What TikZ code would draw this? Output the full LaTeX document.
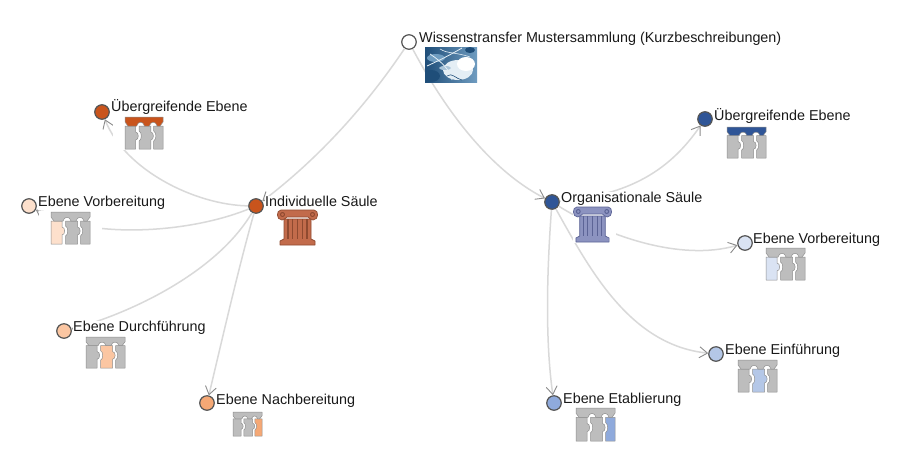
\documentclass[tikz,border=0pt]{standalone}
\usepackage{fontspec}
\setmainfont{Liberation Sans}
\usetikzlibrary{arrows.meta}
\definecolor{lineC}{HTML}{D9D9D9}
\definecolor{tipC}{HTML}{8C8C8C}
\definecolor{ringC}{HTML}{555555}
\definecolor{colG}{HTML}{BDBDBD}
\definecolor{colE}{HTML}{8F8F8F}
\definecolor{oA}{HTML}{C9541C}
\definecolor{oB}{HTML}{FDE0CC}
\definecolor{oC}{HTML}{FBC6A2}
\definecolor{oD}{HTML}{F5A875}
\definecolor{bA}{HTML}{2F5597}
\definecolor{bB}{HTML}{DAE3F3}
\definecolor{bC}{HTML}{B4C7E7}
\definecolor{bD}{HTML}{8FAADC}
\definecolor{pilO}{HTML}{C26B4B}
\definecolor{pilOe}{HTML}{8F4A30}
\definecolor{pilB}{HTML}{8C93C0}
\definecolor{pilBe}{HTML}{5C6496}
\definecolor{imgD}{HTML}{1F4E79}
\definecolor{imgM}{HTML}{6F9CC0}
\definecolor{imgL}{HTML}{E4EEF5}
\tikzset{
 dot/.style={circle,draw=ringC,line width=1.2pt,minimum size=14.5pt,inner sep=0pt},
 lab/.style={anchor=west,inner sep=0pt,fill=white,text height=10.5pt,text depth=3pt,text=black!90,font=\fontsize{14.35}{16}\selectfont},
 link/.style={draw=lineC,line width=1.5pt,-{Straight Barb[color=tipC,length=8pt,width=11pt,line width=.9pt]}},
}
% gate icon: x,y,w,h, bar, left, middle, right
\newcommand{\gateicon}[8]{%
 \fill[white] (#1-12,#2-1) rectangle (#1+#3+12,#2+#4+1);
 \begin{scope}[shift={(#1,#2)},xscale=#3/39,yscale=#4/32,draw=colE,line width=.5pt,line join=round]
 \filldraw[fill=#6] (0,9)--(11,9)--(11,15) .. controls (14.5,15) and (14.5,23) .. (11,23)--(11,32)--(0,32)--cycle;
 \filldraw[fill=#7] (14.5,9)--(26.5,9)--(26.5,15) .. controls (30,15) and (30,23) .. (26.5,23)--(26.5,32)--(14.5,32)--(14.5,24) .. controls (17.5,23) and (17.5,15) .. (14.5,14)--cycle;
 \filldraw[fill=#8] (29.5,9)--(39,9)--(39,32)--(29.5,32)--(29.5,24) .. controls (32.5,22) and (32.5,16) .. (29.5,14)--cycle;
 \filldraw[fill=#5] (0,0)--(39,0)--(39,5)--(36,9)--(33,9) .. controls (32,4) and (26,4) .. (25,9)--(20,9) .. controls (19,4) and (13,4) .. (12,9)--(3,9)--(0,5)--cycle;
 \end{scope}}
% ionic pillar: x,y,w,h, fill, edge
\newcommand{\pillaricon}[6]{%
 \fill[white] (#1-1,#2-1) rectangle (#1+#3+5,#2+#4+1);
 \begin{scope}[shift={(#1,#2)},xscale=#3/39,yscale=#4/35,draw=#6,line width=.7pt,line join=round]
 \filldraw[fill=#5] (6,9)--(33,9)--(33,29)--(37,31)--(37,35)--(2,35)--(2,31)--(6,29)--cycle;
 \filldraw[fill=#5] (3,0)--(36,0) .. controls (41,0) and (41,10) .. (35,10) .. controls (32,10) and (31,7) .. (30,7)--(9,7) .. controls (8,7) and (7,10) .. (4,10) .. controls (-2,10) and (-2,0) .. (3,0)--cycle;
 \draw[line width=1pt] (4.5,4.5) circle (2);
 \draw[line width=1pt] (34.5,4.5) circle (2);
 \foreach \q in {10,14.5,19.5,24.5,29}{\draw[line width=1.1pt] (\q,9)--(\q,29);}
 \end{scope}}
\begin{document}
\begin{tikzpicture}[x=1pt,y=-1pt]
\useasboundingbox (0,0) rectangle (907,467);
\fill[white] (0,0) rectangle (907,467);
% circles
\node[dot,fill=white] (top) at (409,42) {};
\node[dot,fill=oA] (ind) at (256,206) {};
\node[dot,fill=bA] (org) at (552,202) {};
\node[dot,fill=oA] (lu) at (102,112) {};
\node[dot,fill=oB] (lv) at (29,206) {};
\node[dot,fill=oC] (ld) at (64,331) {};
\node[dot,fill=oD] (ln) at (207,403) {};
\node[dot,fill=bA] (ru) at (705,119) {};
\node[dot,fill=bB] (rv) at (745,243) {};
\node[dot,fill=bC] (re) at (716,354) {};
\node[dot,fill=bD] (rt) at (554,403) {};
% connectors
\draw[link] (top) .. controls (360,115) and (310,165) .. (ind);
\draw[link] (top) .. controls (445,110) and (490,170) .. (org);
\draw[link] (ind) .. controls (195,205) and (125,170) .. (lu);
\draw[link] (ind) .. controls (190,233) and (90,240) .. (lv);
\draw[link] (ind) .. controls (215,275) and (125,315) .. (ld);
\draw[link] (ind) .. controls (238,270) and (222,340) .. (ln);
\draw[link] (org) .. controls (630,195) and (670,170) .. (ru);
\draw[link] (org) .. controls (605,235) and (680,262) .. (rv);
\draw[link] (org) .. controls (590,270) and (630,345) .. (re);
\draw[link] (org) .. controls (547,270) and (545,340) .. (rt);
% picture
\begin{scope}
\clip (425,47) rectangle (477,82);
\shade[left color=imgD,right color=imgM] (425,47) rectangle (477,82);
\fill[imgL] (458,70) ellipse (15pt and 10pt);
\fill[white] (466,64) ellipse (9pt and 7pt);
\fill[imgM] (436,58) ellipse (9pt and 4pt);
\fill[imgM!60!white] (445,68) ellipse (6pt and 2pt);
\fill[imgD] (431,76) ellipse (9pt and 6pt);
\fill[imgD] (470,50) ellipse (5pt and 3pt);
\draw[imgL,line width=.8pt] (427,66) .. controls (440,60) and (450,55) .. (462,48);
\draw[imgL,line width=.8pt] (430,54) .. controls (442,62) and (450,70) .. (452,80);
\draw[imgL,line width=.6pt] (440,49) .. controls (448,54) and (456,52) .. (470,57);
\draw[imgD,line width=.6pt] (447,76) .. controls (452,72) and (456,79) .. (462,80);
\end{scope}
% labels
\node[lab] (t0) at (419,38.5) {Wissenstransfer Mustersammlung (Kurzbeschreibungen)};
\node[lab] (t1) at (111,108) {Übergreifende Ebene};
\node[lab] (t2) at (38,203) {Ebene Vorbereitung};
\node[lab] (t3) at (73,328) {Ebene Durchführung};
\node[lab] (t4) at (216,400.5) {Ebene Nachbereitung};
\node[lab] (t5) at (265,203) {Individuelle Säule};
\node[lab] (t6) at (561,199) {Organisationale Säule};
\node[lab] (t7) at (714,117) {Übergreifende Ebene};
\node[lab] (t8) at (753,239.5) {Ebene Vorbereitung};
\node[lab] (t9) at (725,351) {Ebene Einführung};
\node[lab] (t10) at (563,399.5) {Ebene Etablierung};
% icons
\gateicon{125}{117}{38}{32}{oA}{colG}{colG}{colG}
\gateicon{51}{212}{39}{32}{colG}{oB}{colG}{colG}
\gateicon{86}{337}{39}{31}{colG}{colG}{oC}{colG}
\gateicon{233}{412}{29}{24}{colG}{colG}{colG}{oD}
\gateicon{727}{127}{39}{31}{bA}{colG}{colG}{colG}
\gateicon{766}{248}{39}{32}{colG}{bB}{colG}{colG}
\gateicon{738}{360}{39}{32}{colG}{colG}{bC}{colG}
\gateicon{576}{408}{39}{33}{colG}{colG}{colG}{bD}
\pillaricon{278}{210}{39}{35}{pilO}{pilOe}
\pillaricon{574}{207}{37}{35}{pilB}{pilBe}
\end{tikzpicture}
\end{document}
